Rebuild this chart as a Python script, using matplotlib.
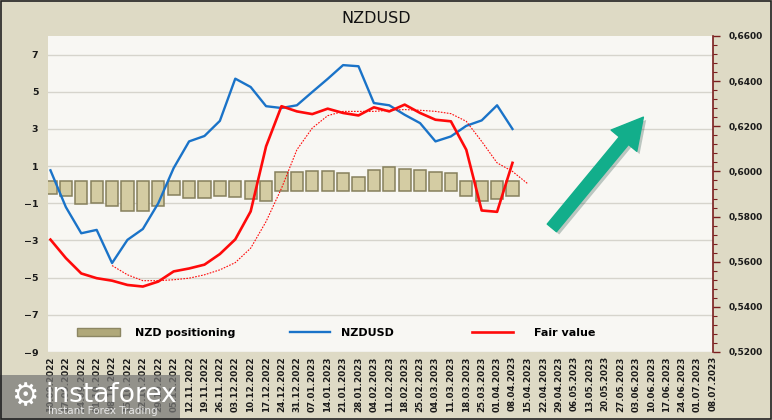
import matplotlib
matplotlib.use("Agg")
import matplotlib.pyplot as plt
import matplotlib.patches as mpatches
import matplotlib.patheffects as pe
from matplotlib.ticker import MultipleLocator, FuncFormatter
from matplotlib.lines import Line2D
from matplotlib.legend import Legend
import pandas as pd

# weekly dates on the category axis
dates = pd.date_range("2022-09-10", periods=44, freq="7D").strftime("%d.%m.%Y").tolist()

# NZD positioning (left axis)
positioning = [-0.49, -0.63, -1.05, -1.0, -1.12, -1.44, -1.44, -1.12, -0.54, -0.72,
               -0.72, -0.6, -0.67, -0.78, -0.85, 0.68, 0.70, 0.73, 0.73, 0.63,
               0.41, 0.80, 0.97, 0.86, 0.80, 0.68, 0.64, -0.6, -0.9, -0.78, -0.6]

# NZDUSD close (right axis)
nzdusd = [0.6005, 0.5842, 0.5726, 0.5741, 0.5594, 0.5697, 0.5745, 0.5859, 0.6015, 0.6133,
          0.6157, 0.6224, 0.6411, 0.6374, 0.6289, 0.6281, 0.6293, 0.6352, 0.6410, 0.6471,
          0.6466, 0.6303, 0.6293, 0.6251, 0.6214, 0.6133, 0.6155, 0.6202, 0.6226, 0.6293,
          0.6188]

# Fair value (right axis)
fair_value = [0.5698, 0.5616, 0.5548, 0.5527, 0.5516, 0.5497, 0.5490, 0.5512, 0.5557, 0.5570,
              0.5587, 0.5634, 0.5699, 0.5823, 0.6111, 0.6289, 0.6266, 0.6254, 0.6278, 0.6259,
              0.6248, 0.6284, 0.6266, 0.6296, 0.6259, 0.6229, 0.6222, 0.6096, 0.5827, 0.5821,
              0.6038]

# smoothed fair value, starts at week 4 and runs one week past the data
fair_trend_start = 4
fair_trend = [0.5583, 0.5542, 0.5516, 0.5516, 0.5520, 0.5527, 0.5542, 0.5564, 0.5596, 0.5660,
              0.5778, 0.5925, 0.6096, 0.6192, 0.6247, 0.6266, 0.6266, 0.6266, 0.6271, 0.6274,
              0.6271, 0.6266, 0.6256, 0.6222, 0.6133, 0.6038, 0.6000, 0.5945]

BG = "#DEDAC5"
PLOT_BG = "#F8F7F3"
BLUE = "#1A73C8"
RED = "#FF0A0A"
BAR = "#D4CCA3"
BAR_EDGE = "#86805C"
AXIS_RED = "#7A1E1E"

plt.rcParams["font.family"] = "DejaVu Sans"

fig = plt.figure(figsize=(7.72, 4.2), dpi=100, facecolor=BG)
ax = fig.add_axes([48 / 772, 68 / 420, 665 / 772, 316 / 420])
ax.set_facecolor(PLOT_BG)
ax2 = ax.twinx()

x = list(range(len(dates)))

# bars - the bevelled bars overlap the zero line a little on the other side
bar_base = [0.2 if v < 0 else -0.35 for v in positioning]
bar_height = [v - b for v, b in zip(positioning, bar_base)]
ax.bar(x[:len(positioning)], bar_height, bottom=bar_base, width=0.8, color=BAR,
       edgecolor=BAR_EDGE, linewidth=1.1, zorder=3)
ax.set_ylim(-9, 8)
ax.set_yticks(range(-9, 8, 2))
ax.grid(axis="y", color="#D6D4CC", linewidth=1.0, zorder=0)
ax.set_axisbelow(True)

# lines
ax2.plot(x[:len(nzdusd)], nzdusd, color=BLUE, linewidth=1.7, zorder=4)
ax2.plot(x[:len(fair_value)], fair_value, color=RED, linewidth=1.9, zorder=5)
ax2.plot(x[fair_trend_start:fair_trend_start + len(fair_trend)], fair_trend, color=RED,
         linewidth=0.8, linestyle=(0, (1.5, 1.2)), zorder=4)
ax2.set_ylim(0.52, 0.66)
ax2.yaxis.set_major_locator(MultipleLocator(0.02))
ax2.yaxis.set_minor_locator(MultipleLocator(0.004))
ax2.yaxis.set_major_formatter(FuncFormatter(lambda v, p: f"{v:.4f}".replace(".", ",")))

ax.set_xlim(-0.16, 43.02)
ax.set_xticks(x)
ax.set_xticklabels(dates, rotation=90, fontsize=6.3, fontweight="bold", color="#1A1A1A")
ax.tick_params(axis="x", length=0, pad=3)
ax.tick_params(axis="y", length=0, pad=7, labelsize=6.8, labelcolor="#1A1A1A")
for t in ax.get_yticklabels():
    t.set_fontweight("bold")

ax2.tick_params(axis="y", which="major", length=5, width=1, color=AXIS_RED, pad=6,
                labelsize=6.5, labelcolor="#1A1A1A")
ax2.tick_params(axis="y", which="minor", length=3, width=0.8, color=AXIS_RED)
for t in ax2.get_yticklabels():
    t.set_fontweight("bold")

for s in ["top", "bottom", "left"]:
    ax.spines[s].set_visible(False)
    ax2.spines[s].set_visible(False)
ax.spines["right"].set_visible(False)
ax2.spines["right"].set_color(AXIS_RED)
ax2.spines["right"].set_linewidth(1.2)

# legend - one entry each so they sit where the original has them
legend_items = [
    (mpatches.Patch(facecolor="#B0A879", edgecolor="#8C8662"), "NZD positioning", 0.0436, 3.87, 1.35),
    (Line2D([], [], color=BLUE, linewidth=1.7), "NZDUSD", 0.3639, 3.6, 1.0),
    (Line2D([], [], color=RED, linewidth=1.9), "Fair value", 0.6376, 3.7, 1.9),
]
for handle, label, xpos, hlen, hpad in legend_items:
    leg = Legend(ax2, [handle], [label], loc="center left", bbox_to_anchor=(xpos, 0.06),
                 frameon=False, borderpad=0, borderaxespad=0, handlelength=hlen,
                 handletextpad=hpad, prop={"weight": "bold", "size": 8})
    ax2.add_artist(leg)

# arrow
arrow = mpatches.FancyArrowPatch((0.755, 0.386), (0.898, 0.75), transform=ax.transAxes,
                                 arrowstyle="simple,head_length=2.2,head_width=2.4,tail_width=0.86",
                                 mutation_scale=10, color="#12AE8B", zorder=6,
                                 capstyle="round",
                                 path_effects=[pe.SimplePatchShadow(offset=(2, -2), alpha=0.25),
                                               pe.Normal()])
ax2.add_patch(arrow)

# title
fig.text(376 / 772, 0.957, "NZDUSD", ha="center", va="center", fontsize=11.5, color="#111111")

# watermark
fig.patches.append(mpatches.Rectangle((0, 0), 180 / 772, 45 / 420, transform=fig.transFigure,
                                      facecolor="#7A7A78", alpha=0.75, edgecolor="none",
                                      zorder=10))
fig.text(25 / 772, 23 / 420, "\u2699", ha="center", va="center", fontsize=22,
         color="white", zorder=11)
fig.text(46 / 772, 25 / 420, "instaforex", ha="left", va="center", fontsize=19,
         color="white", zorder=11)
fig.text(48 / 772, 9 / 420, "Instant Forex Trading", ha="left", va="center", fontsize=7.5,
         color="#E6E6E6", zorder=11)

# outer frame
fig.patches.append(mpatches.Rectangle((0.001, 0.002), 0.998, 0.996, transform=fig.transFigure,
                                      facecolor="none", edgecolor="#222222", linewidth=1.2,
                                      zorder=12))

fig.savefig("out.png", dpi=100, facecolor=BG)
